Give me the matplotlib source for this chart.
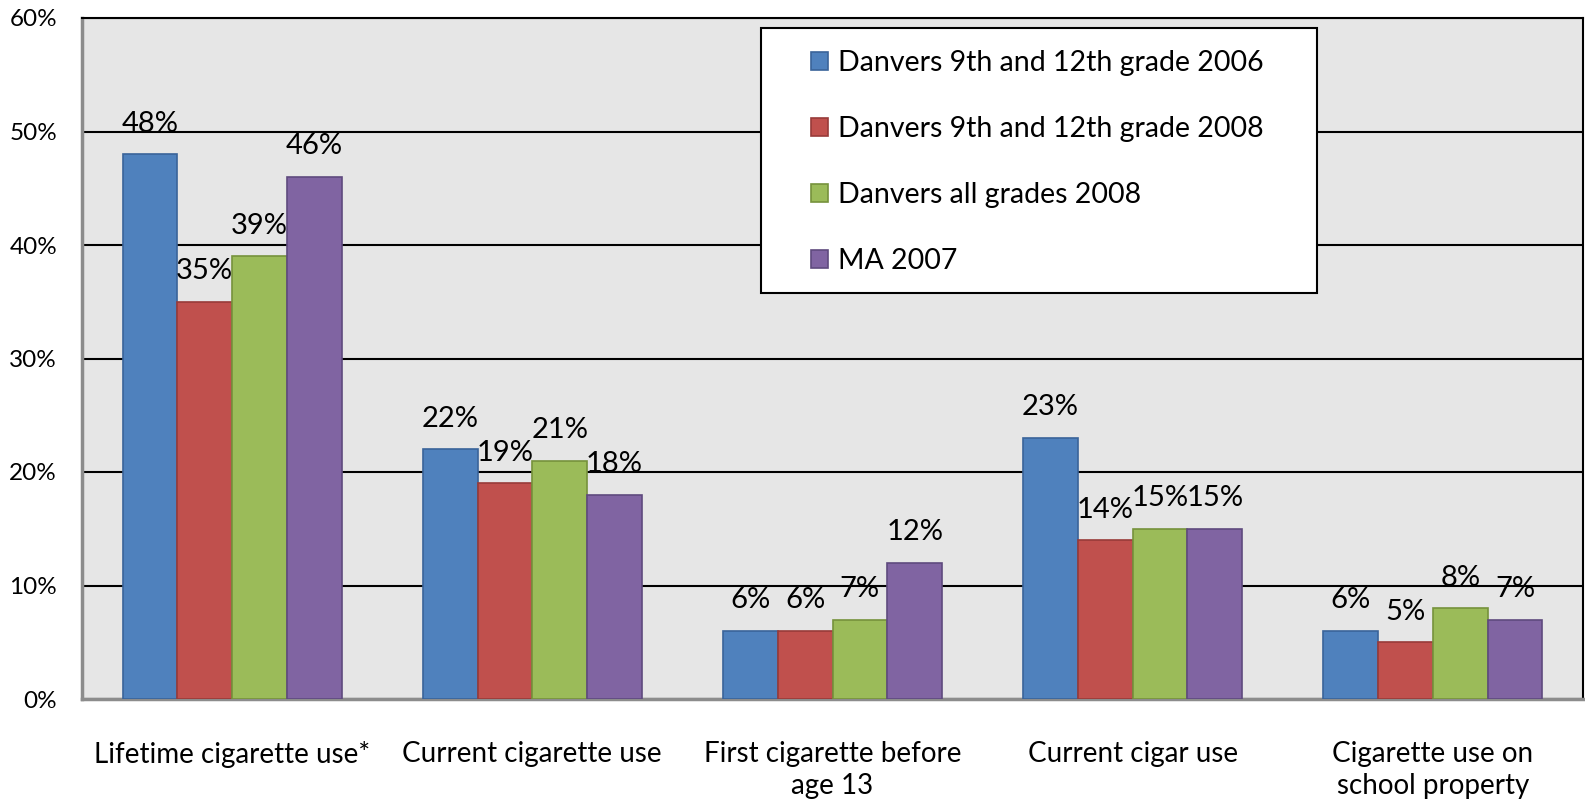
import matplotlib
matplotlib.use("Agg")
import matplotlib.pyplot as plt
import numpy as np
from matplotlib.patches import Patch, Rectangle

plt.rcParams['font.family'] = ['Lato', 'DejaVu Sans']

categories = ["Lifetime cigarette use*", "Current cigarette use",
              "First cigarette before\nage 13", "Current cigar use",
              "Cigarette use on\nschool property"]
series_names = ["Danvers 9th and 12th grade 2006", "Danvers 9th and 12th grade 2008",
                "Danvers all grades 2008", "MA 2007"]
d2006_912 = [48, 22, 6, 23, 6]
d2008_912 = [35, 19, 6, 14, 5]
d2008_all = [39, 21, 7, 15, 8]
ma2007 = [46, 18, 12, 15, 7]
yticks = [0, 10, 20, 30, 40, 50, 60]

series = [d2006_912, d2008_912, d2008_all, ma2007]
faces = ["#4F81BD", "#C0504D", "#9BBB59", "#8064A2"]
edges = ["#3A649A", "#983B39", "#76923C", "#5F4A7E"]

W, H = 1585, 808
fig = plt.figure(figsize=(W/100, H/100), dpi=100)
L, R, T, B = 82, 1583, 18, 699
ax = fig.add_axes([L/W, 1-B/H, (R-L)/W, (B-T)/H])
ax.set_facecolor("#E6E6E6")

x = np.arange(len(categories))
w = 0.1825
for i, (vals, fc, ec) in enumerate(zip(series, faces, edges)):
    pos = x + (i - 1.5) * w
    ax.bar(pos, vals, width=w, color=fc, edgecolor=ec, linewidth=1.2, zorder=3,
           label=series_names[i])
    for p, v in zip(pos, vals):
        ax.annotate(f"{v}%", (p, v), xytext=(0, 22), textcoords="offset points",
                    ha="center", va="center", fontsize=21, zorder=5)

ax.set_xlim(-0.5, len(categories) - 0.5)
ax.set_ylim(0, 60)
ax.set_yticks(yticks)
ax.set_yticklabels([f"{t}%" for t in yticks], fontsize=17.5)
ax.yaxis.grid(True, color="black", linewidth=1.5, zorder=1)
ax.set_axisbelow(True)
ax.tick_params(axis="y", length=0, pad=18)
ax.set_xticks(x)
ax.set_xticklabels(categories, fontsize=20, linespacing=1.32)
ax.tick_params(axis="x", length=0, pad=30)

for s in ["top", "right"]:
    ax.spines[s].set_color("black")
    ax.spines[s].set_linewidth(1.5)
for s in ["left", "bottom"]:
    ax.spines[s].set_color("#8C8C8C")
    ax.spines[s].set_linewidth(2.5)

# legend frame box
lx0, ly0, lx1, ly1 = 761, 28, 1317, 293
rect = Rectangle((lx0/W, 1-ly1/H), (lx1-lx0)/W, (ly1-ly0)/H, transform=fig.transFigure,
                 facecolor="white", edgecolor="black", linewidth=1.5, zorder=9)
fig.patches.append(rect)

handles = [Patch(facecolor=fc, edgecolor=ec, linewidth=1.2) for fc, ec in zip(faces, edges)]
leg = fig.legend(handles, series_names, loc="upper left",
                 bbox_to_anchor=(811/W, 1-50/H),
                 fontsize=20.5, frameon=False, borderpad=0, labelspacing=1.4,
                 handlelength=0.6, handleheight=0.6, handletextpad=0.35,
                 borderaxespad=0)
leg.set_zorder(10)

fig.savefig("out.png", dpi=100)
